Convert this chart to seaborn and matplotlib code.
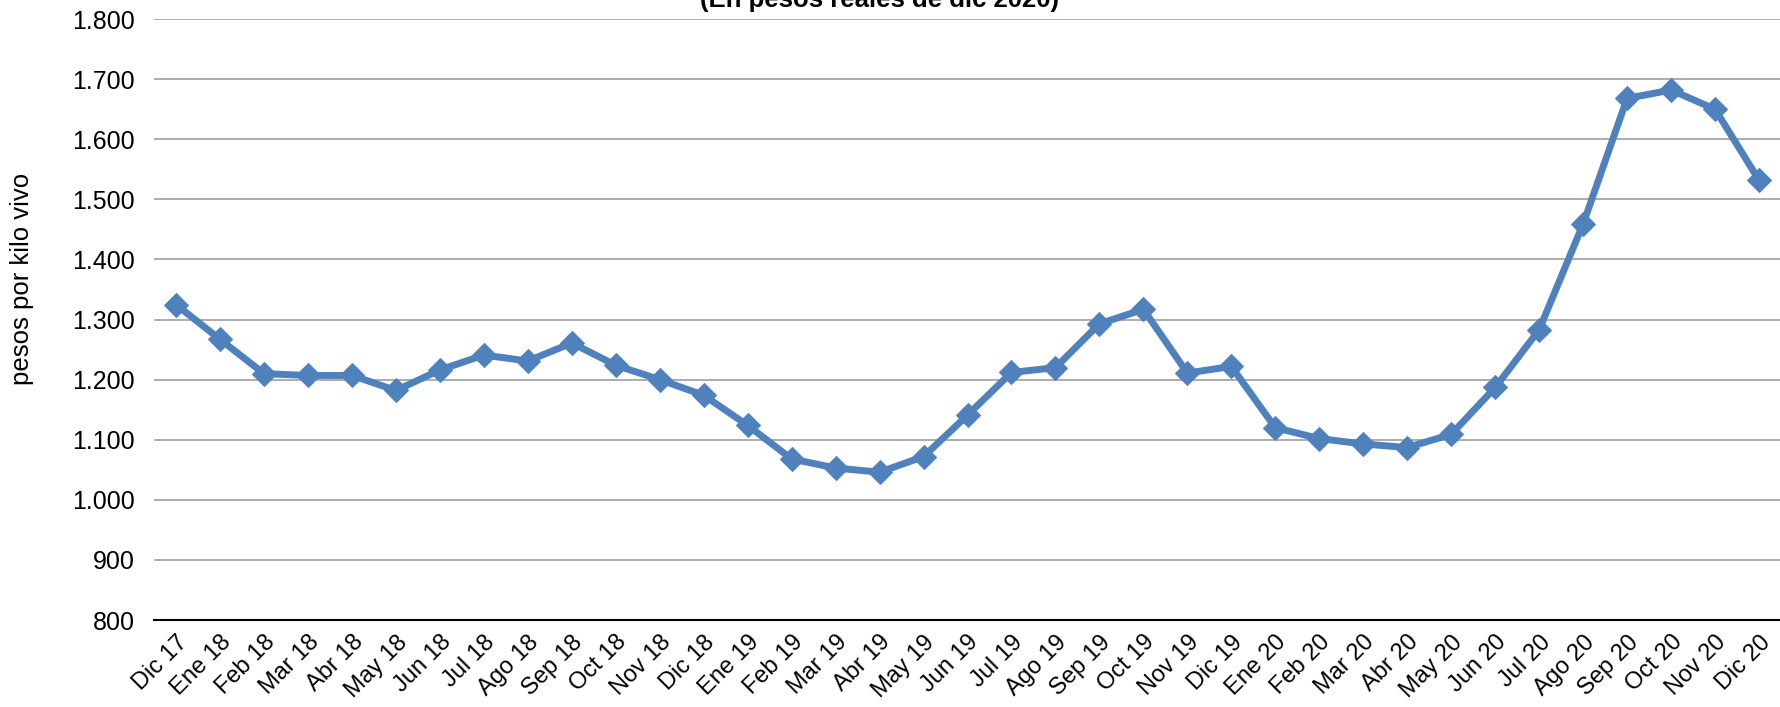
import matplotlib
matplotlib.use("Agg")
import matplotlib.pyplot as plt
import matplotlib.ticker as mticker
import seaborn as sns
import pandas as pd

# meses del período y precio real por kilo vivo
meses = ['Dic 17', 'Ene 18', 'Feb 18', 'Mar 18', 'Abr 18', 'May 18', 'Jun 18',
         'Jul 18', 'Ago 18', 'Sep 18', 'Oct 18', 'Nov 18', 'Dic 18', 'Ene 19',
         'Feb 19', 'Mar 19', 'Abr 19', 'May 19', 'Jun 19', 'Jul 19', 'Ago 19',
         'Sep 19', 'Oct 19', 'Nov 19', 'Dic 19', 'Ene 20', 'Feb 20', 'Mar 20',
         'Abr 20', 'May 20', 'Jun 20', 'Jul 20', 'Ago 20', 'Sep 20', 'Oct 20',
         'Nov 20', 'Dic 20']
precios = [1325, 1267, 1210, 1207, 1207, 1182, 1216, 1241, 1231, 1261, 1224,
           1200, 1174, 1124, 1068, 1053, 1046, 1072, 1141, 1212, 1220, 1293,
           1317, 1211, 1222, 1120, 1102, 1093, 1087, 1109, 1187, 1283, 1459,
           1668, 1682, 1650, 1532]
yticks = list(range(800, 1801, 100))

titulo = '(En pesos reales de dic 2020)'
ylabel = 'pesos por kilo vivo'

df = pd.DataFrame({'mes': meses, 'precio': precios})

sns.set_theme(style='white')
plt.rcParams['font.family'] = ['Liberation Sans', 'DejaVu Sans']

fig = plt.figure(figsize=(17.81, 7.07), dpi=100)
ax = fig.add_axes([0.0865, 0.123, 0.9135, 0.850])

azul = '#4F81BD'
sns.lineplot(data=df, x='mes', y='precio', sort=False, ax=ax, color=azul,
             linewidth=5, marker='D', markersize=12,
             markeredgecolor=azul, markerfacecolor=azul)

ax.set_xlim(-0.5, len(meses) - 0.5)
ax.set_ylim(800, 1800)
ax.set_yticks(yticks)
ax.yaxis.set_major_formatter(
    mticker.FuncFormatter(lambda v, p: f'{int(v):,}'.replace(',', '.')))

# grilla horizontal gris, eje inferior negro
ax.grid(axis='y', color='#a6a6a6', linewidth=1.3)
ax.grid(axis='x', visible=False)
ax.set_axisbelow(True)
for s in ['left', 'right', 'top']:
    ax.spines[s].set_visible(False)
ax.spines['bottom'].set_color('black')
ax.spines['bottom'].set_linewidth(1.5)

ax.tick_params(axis='y', length=0, pad=14, labelsize=18, labelcolor='black')
ax.tick_params(axis='x', length=0, pad=8, labelsize=17, labelcolor='black')
plt.setp(ax.get_xticklabels(), rotation=45, ha='right', rotation_mode='anchor')

ax.set_xlabel('')
ax.set_ylabel(ylabel, fontsize=18.5, color='black')
ax.yaxis.set_label_coords(-0.074, 0.567)

fig.text(0.494, 1.0, titulo, ha='center', va='center', fontsize=18.5,
         fontweight='bold', color='black')

fig.savefig('out.png', dpi=100)
